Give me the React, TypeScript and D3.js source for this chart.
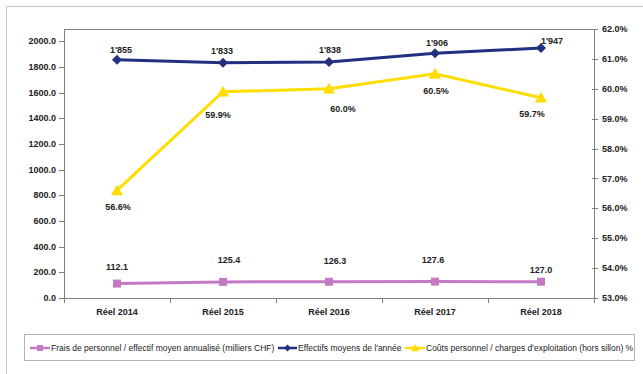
import React from "react";
import * as d3 from "d3";

const categories = ["Réel 2014", "Réel 2015", "Réel 2016", "Réel 2017", "Réel 2018"];
const frais = [112.1, 125.4, 126.3, 127.6, 127.0];
const effectifs = [1855, 1833, 1838, 1906, 1947];
const couts = [56.6, 59.9, 60.0, 60.5, 59.7];
const effectifsLabels = ["1'855", "1'833", "1'838", "1'906", "1'947"];
const leftTicks = [0, 200, 400, 600, 800, 1000, 1200, 1400, 1600, 1800, 2000];
const rightTicks = [53, 54, 55, 56, 57, 58, 59, 60, 61, 62];
const legendLabels = [
  "Frais de personnel / effectif moyen annualisé (milliers CHF)",
  "Effectifs moyens de l'année",
  "Coûts personnel / charges d'exploitation (hors sillon) %",
];

// label offsets (dx, dy) relative to marker
const fraisOff = [[0, -17], [6, -22], [6, -21], [-2, -22], [0, -12]];
const effOff = [[4, -10], [-1, -12], [1, -12], [2, -10], [11, -7]];
const coutsOff = [[1, 16], [-5, 23], [14, 20], [1, 17], [-9, 16]];

const W = 643, H = 374;
const L = 64, R = 594, T = 29, B = 298;

export default function App() {
  const x = d3.scaleBand().domain(categories).range([L, R]);
  const cx = (c: string) => (x(c) as number) + x.bandwidth() / 2;
  const yL = d3.scaleLinear().domain([0, 2095]).range([B, T]);
  const yR = d3.scaleLinear().domain([53, 62]).range([B, T]);
  const line = d3.line<[number, number]>();

  const fraisPts = categories.map((c, i) => [cx(c), yL(frais[i])] as [number, number]);
  const effPts = categories.map((c, i) => [cx(c), yL(effectifs[i])] as [number, number]);
  const coutPts = categories.map((c, i) => [cx(c), yR(couts[i])] as [number, number]);

  const pink = "#C27BC2";
  const navy = "#23307F";
  const yellow = "#FFDD00";
  const axisCol = "#7F7F7F";
  const font = "'Liberation Sans', Arial, sans-serif";

  const diamond = (px: number, py: number, s: number) =>
    `M${px},${py - s}L${px + s},${py}L${px},${py + s}L${px - s},${py}Z`;
  const tri = (px: number, py: number, s: number) =>
    `M${px},${py - s}L${px + s},${py + s * 0.8}L${px - s},${py + s * 0.8}Z`;

  const legY = 348;
  const legItems = [
    { x1: 30, x2: 50, tx: 51, color: pink, kind: "sq" },
    { x1: 278, x2: 297, tx: 298, color: navy, kind: "di" },
    { x1: 405, x2: 425, tx: 426, color: yellow, kind: "tr" },
  ];

  return (
    <svg width={W} height={H} style={{ position: "absolute", left: 0, top: 0, background: "#fff" }}
      fontFamily={font}>
      <rect x={6.5} y={6.5} width={W} height={H} fill="#fff" stroke="#C8C8C8" strokeWidth={1} />
      {/* plot frame */}
      <line x1={L} x2={R} y1={T + 0.5} y2={T + 0.5} stroke={axisCol} />
      <line x1={L + 0.5} x2={L + 0.5} y1={T} y2={B} stroke={axisCol} />
      <line x1={R + 0.5} x2={R + 0.5} y1={T} y2={B} stroke={axisCol} />
      <line x1={L} x2={R} y1={B + 0.5} y2={B + 0.5} stroke={axisCol} />
      {/* left ticks */}
      {leftTicks.map((t) => (
        <g key={"l" + t}>
          <line x1={L - 5} x2={L} y1={Math.round(yL(t)) + 0.5} y2={Math.round(yL(t)) + 0.5} stroke={axisCol} />
          <text x={L - 8} y={yL(t)} dy="0.35em" textAnchor="end" fontSize={9} fontWeight="bold" fill="#222">
            {t.toFixed(1)}
          </text>
        </g>
      ))}
      {/* right ticks */}
      {rightTicks.map((t) => (
        <g key={"r" + t}>
          <line x1={R - 2} x2={R + 4} y1={Math.round(yR(t)) + 0.5} y2={Math.round(yR(t)) + 0.5} stroke={axisCol} />
          <text x={R + 8} y={yR(t)} dy="0.35em" textAnchor="start" fontSize={9} fontWeight="bold" fill="#222">
            {t.toFixed(1) + "%"}
          </text>
        </g>
      ))}
      {/* x ticks */}
      {categories.map((c) => (
        <g key={c}>
          <line x1={Math.round(x(c) as number) + 0.5} x2={Math.round(x(c) as number) + 0.5} y1={B} y2={B + 5} stroke={axisCol} />
          <text x={cx(c)} y={B + 14} dy="0.35em" textAnchor="middle" fontSize={9} fontWeight="bold" fill="#222">
            {c}
          </text>
        </g>
      ))}
      <line x1={R + 0.5} x2={R + 0.5} y1={B} y2={B + 5} stroke={axisCol} />
      {/* series */}
      <path d={line(fraisPts) as string} fill="none" stroke={pink} strokeWidth={3} />
      <path d={line(effPts) as string} fill="none" stroke={navy} strokeWidth={3} />
      <path d={line(coutPts) as string} fill="none" stroke={yellow} strokeWidth={3} />
      {fraisPts.map(([px, py], i) => (
        <rect key={"fs" + i} x={px - 4} y={py - 4} width={8} height={8} fill={pink} />
      ))}
      {effPts.map(([px, py], i) => (
        <path key={"ed" + i} d={diamond(px, py, 5)} fill={navy} />
      ))}
      {coutPts.map(([px, py], i) => (
        <path key={"ct" + i} d={tri(px, py, 6)} fill={yellow} />
      ))}
      {/* labels */}
      {fraisPts.map(([px, py], i) => (
        <text key={"fl" + i} x={px + fraisOff[i][0]} y={py + fraisOff[i][1]} dy="0.35em" textAnchor="middle"
          fontSize={9} fontWeight="bold" fill="#222">{frais[i].toFixed(1)}</text>
      ))}
      {effPts.map(([px, py], i) => (
        <text key={"el" + i} x={px + effOff[i][0]} y={py + effOff[i][1]} dy="0.35em" textAnchor="middle"
          fontSize={9} fontWeight="bold" fill="#222">{effectifsLabels[i]}</text>
      ))}
      {coutPts.map(([px, py], i) => (
        <text key={"cl" + i} x={px + coutsOff[i][0]} y={py + coutsOff[i][1]} dy="0.35em" textAnchor="middle"
          fontSize={9} fontWeight="bold" fill="#222">{couts[i].toFixed(1) + "%"}</text>
      ))}
      {/* legend */}
      <rect x={24.5} y={334.5} width={610} height={26} fill="#fff" stroke="#B4B4B4" />
      {legItems.map((it, i) => (
        <g key={"lg" + i}>
          <line x1={it.x1} x2={it.x2} y1={legY} y2={legY} stroke={it.color} strokeWidth={2.5} />
          {it.kind === "sq" && <rect x={(it.x1 + it.x2) / 2 - 3} y={legY - 3} width={6} height={6} fill={it.color} />}
          {it.kind === "di" && <path d={diamond((it.x1 + it.x2) / 2, legY, 3.5)} fill={it.color} />}
          {it.kind === "tr" && <path d={tri((it.x1 + it.x2) / 2, legY, 4)} fill={it.color} />}
          <text x={it.tx} y={legY} dy="0.35em" fontSize={8.5} fill="#222">{legendLabels[i]}</text>
        </g>
      ))}
    </svg>
  );
}
